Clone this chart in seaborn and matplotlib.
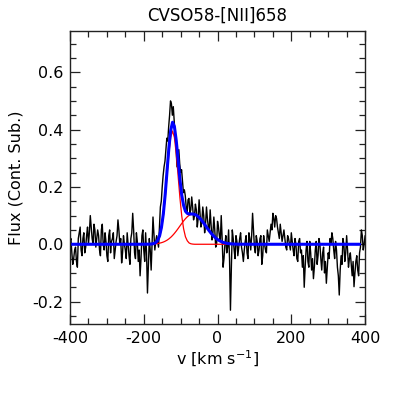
import numpy as np
import pandas as pd
import matplotlib
matplotlib.use("Agg")
import matplotlib.pyplot as plt
from matplotlib.ticker import MultipleLocator, FormatStrFormatter
import seaborn as sns

# Observed spectrum: velocity grid start/step and continuum-subtracted flux
v_start = -400.0
v_step = 2.5
flux = [
    0.01, 0.02, -0.03, -0.07, -0.05, -0.02, -0.01, -0.06, -0.08, 0.02,
    0.04, 0.06, -0.02, -0.04, 0.02, 0.04, -0.03, -0.01, 0.03, 0.06,
    0.00, 0.04, 0.10, 0.06, 0.02, 0.00, 0.07, 0.05, -0.01, 0.02,
    0.05, 0.03, -0.02, -0.04, 0.05, 0.07, 0.00, -0.02, 0.04, 0.01,
    -0.04, -0.06, 0.03, 0.05, -0.03, 0.01, 0.02, 0.04, -0.05, -0.02,
    0.01, 0.03, 0.085, 0.05, 0.00, 0.02, -0.065, -0.03, 0.03, 0.00,
    -0.02, -0.05, 0.04, 0.00, -0.04, -0.07, 0.02, 0.04, 0.108, 0.05,
    -0.03, -0.05, 0.04, 0.01, -0.06, -0.02, -0.11, -0.05, 0.03, 0.05,
    -0.02, -0.06, 0.04, -0.03, -0.17, -0.08, 0.02, -0.02, -0.09, 0.00,
    0.095, 0.04, -0.02, 0.01, 0.03, 0.01, -0.01, 0.06, 0.13, 0.15,
    0.20, 0.24, 0.27, 0.29, 0.33, 0.37, 0.36, 0.41, 0.45, 0.50,
    0.49, 0.45, 0.48, 0.43, 0.38, 0.34, 0.27, 0.30, 0.33, 0.28,
    0.25, 0.26, 0.22, 0.18, 0.19, 0.17, 0.13, 0.11, 0.155, 0.16,
    0.11, 0.12, 0.165, 0.13, 0.085, 0.10, 0.14, 0.12, 0.06, 0.09,
    0.155, 0.11, 0.06, 0.08, 0.13, 0.10, 0.04, 0.07, 0.13, 0.09,
    0.06, 0.05, 0.12, 0.07, 0.015, 0.04, 0.095, 0.05, -0.01, 0.00,
    0.08, 0.06, 0.03, 0.01, 0.10, 0.02, -0.08, -0.05, 0.00, 0.03,
    -0.03, -0.01, 0.05, -0.05, -0.23, -0.08, 0.05, 0.02, -0.02, -0.05,
    0.03, 0.01, -0.04, -0.01, 0.02, 0.04, -0.01, -0.03, -0.06, -0.02,
    0.01, 0.03, -0.03, -0.05, 0.04, 0.02, -0.02, 0.03, 0.108, 0.05,
    -0.01, -0.03, 0.03, 0.01, -0.04, -0.02, 0.02, 0.03, -0.07, -0.04,
    0.03, 0.00, -0.02, -0.03, 0.05, 0.03, 0.01, 0.04, 0.07, 0.05,
    0.108, 0.09, 0.06, 0.10, 0.09, 0.06, 0.04, 0.02, 0.07, 0.04,
    0.01, 0.03, 0.05, 0.02, -0.01, -0.02, 0.03, 0.02, 0.00, -0.02,
    0.04, 0.01, -0.02, -0.04, 0.02, 0.00, -0.05, -0.06, 0.01, 0.02,
    -0.03, -0.02, -0.08, -0.04, -0.15, -0.08, -0.02, 0.01, -0.06, -0.08,
    0.01, -0.03, -0.09, -0.05, -0.12, -0.08, -0.02, 0.01, -0.07, -0.04,
    0.02, 0.00, -0.05, -0.09, -0.03, -0.01, -0.10, -0.06, -0.136, -0.08,
    -0.03, -0.05, 0.02, 0.00, 0.04, 0.02, -0.02, -0.05, 0.01, -0.02,
    -0.08, -0.11, -0.177, -0.09, -0.04, -0.07, 0.02, 0.00, -0.06, -0.03,
    0.03, -0.02, -0.08, -0.05, -0.03, -0.07, -0.11, -0.06, -0.148, -0.10,
    -0.06, -0.04, -0.09, -0.11, -0.03, -0.01, 0.05, 0.03, -0.02, 0.00,
    0.03,
]

# Fit components sampled on their own velocity grid
fit_v = [-400, -300, -250, -220,
         -202, -197, -192, -187, -182, -177, -172, -167, -162, -157,
         -152, -147, -142, -137, -132, -127, -122, -117, -112, -107,
         -102, -97, -92, -87, -82, -77, -72, -67, -62, -57,
         -52, -47, -42, -37, -32, -27, -22, -17, -12, -7,
         -2, 3, 8, 13, 18, 23, 28, 33, 38, 43,
         48, 53, 58, 100, 200, 300, 385]
narrow = [0, 0, 0, 0,
          0, 0, 0, 0, 0, 0.0005, 0.0016, 0.0044, 0.012, 0.026,
          0.054, 0.098, 0.162, 0.240, 0.316, 0.373, 0.395, 0.373, 0.316, 0.240,
          0.162, 0.098, 0.054, 0.026, 0.012, 0.0044, 0.0016, 0.0005, 0, 0,
          0, 0, 0, 0, 0, 0, 0, 0, 0, 0,
          0, 0, 0, 0, 0, 0, 0, 0, 0, 0,
          0, 0, 0, 0, 0, 0, 0]
broad = [0, 0, 0, 0,
         0.0001, 0.0001, 0.0002, 0.0003, 0.0005, 0.0008, 0.0012, 0.0018, 0.0026, 0.0039,
         0.0055, 0.0077, 0.0106, 0.0142, 0.0187, 0.0241, 0.0305, 0.0378, 0.0459, 0.0546,
         0.0637, 0.0727, 0.0814, 0.0892, 0.0958, 0.101, 0.104, 0.105, 0.104, 0.101,
         0.0958, 0.0892, 0.0814, 0.0727, 0.0637, 0.0546, 0.0459, 0.0378, 0.0305, 0.0241,
         0.0187, 0.0142, 0.0106, 0.0077, 0.0055, 0.0039, 0.0026, 0.0018, 0.0012, 0.0008,
         0.0005, 0.0003, 0.0002, 0, 0, 0, 0]

spec = pd.DataFrame({"flux": flux})
spec["v"] = v_start + v_step * spec.index
fit = pd.DataFrame({"v": fit_v, "narrow": narrow, "broad": broad})
fit["total"] = fit["narrow"] + fit["broad"]

sns.set_style("ticks")
plt.rcParams["font.family"] = ["DejaVu Sans"]
plt.rcParams["axes.unicode_minus"] = False
plt.rcParams["text.color"] = "black"
plt.rcParams["axes.labelcolor"] = "black"
plt.rcParams["xtick.color"] = "black"
plt.rcParams["ytick.color"] = "black"

fig = plt.figure(figsize=(4.07, 3.98), dpi=100)
ax = fig.add_axes([0.172, 0.186, 0.725, 0.737])

sns.lineplot(data=spec, x="v", y="flux", ax=ax, color="black", lw=1.0,
             estimator=None, sort=False)
sns.lineplot(data=fit, x="v", y="narrow", ax=ax, color="red", lw=0.9,
             estimator=None, sort=False)
sns.lineplot(data=fit, x="v", y="broad", ax=ax, color="red", lw=0.9,
             estimator=None, sort=False)
sns.lineplot(data=fit, x="v", y="total", ax=ax, color="blue", lw=2.2,
             estimator=None, sort=False)

ax.set_xlim(-400, 400)
ax.set_ylim(-0.278, 0.745)
ax.xaxis.set_major_locator(MultipleLocator(200))
ax.xaxis.set_minor_locator(MultipleLocator(50))
ax.yaxis.set_major_locator(MultipleLocator(0.2))
ax.yaxis.set_minor_locator(MultipleLocator(0.05))
ax.yaxis.set_major_formatter(FormatStrFormatter("%.1f"))
ax.tick_params(which="both", direction="in", top=True, right=True,
               labelsize=11.5, width=0.9, color="#222222")
ax.tick_params(which="major", length=7, pad=5)
ax.tick_params(which="minor", length=4)
for s in ax.spines.values():
    s.set_linewidth(1.0)
    s.set_color("#222222")

ax.set_xlabel(r"v [km s$^{-1}$]", fontsize=11.5, labelpad=2)
ax.set_ylabel("Flux (Cont. Sub.)", fontsize=11.5, labelpad=6)
ax.set_title("CVSO58-[NII]658", fontsize=12, pad=7)

fig.savefig("out.png", dpi=100)
